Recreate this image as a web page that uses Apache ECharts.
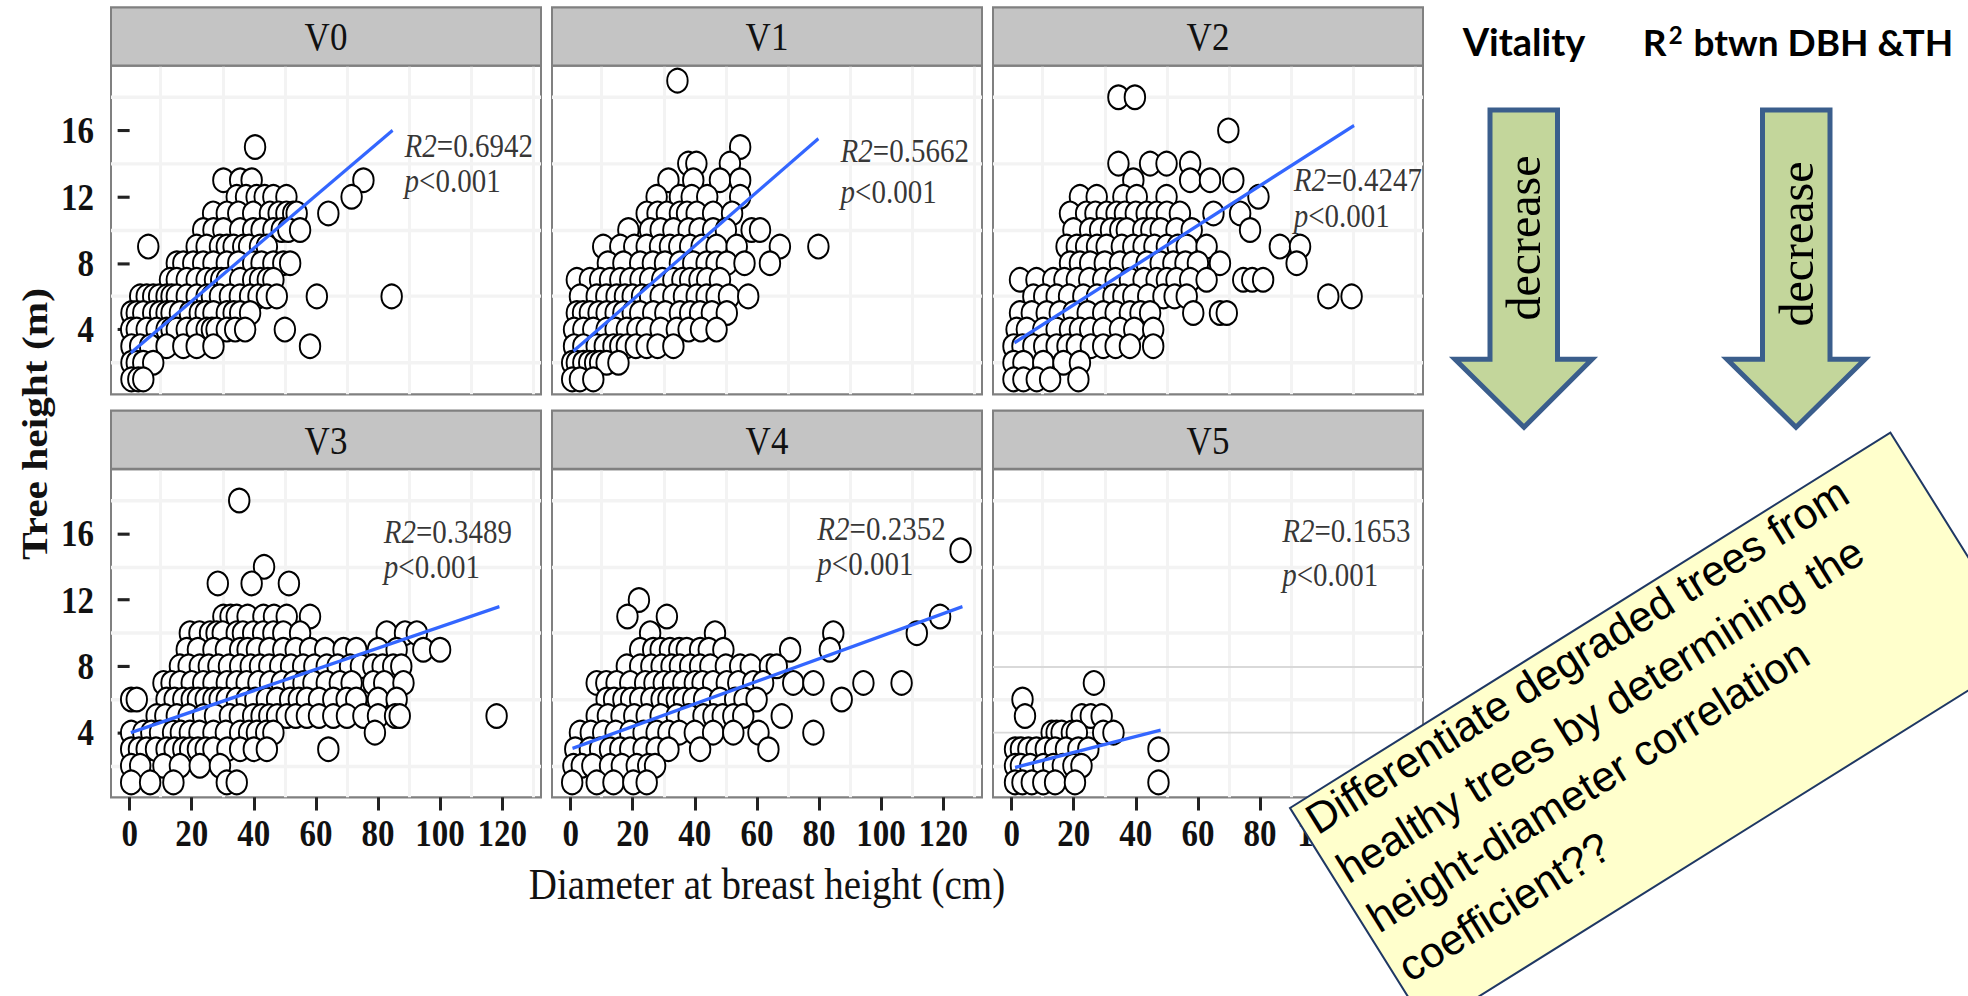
<!DOCTYPE html>
<html><head><meta charset="utf-8">
<script src="https://cdn.jsdelivr.net/npm/echarts@6/dist/echarts.min.js"></script>
<style>
html,body{margin:0;padding:0;background:#fff;overflow:hidden;width:1968px;height:996px}
#main{width:1968px;height:866.087px;transform:scaleY(1.15);transform-origin:0 0;}
</style>
</head><body><div id="main"></div>
<script>
// ---------------- data ----------------
const panels = ['V0','V1','V2','V3','V4','V5'];
const xTicks = [0,20,40,60,80,100,120];
const yTicks = [4,8,12,16];
const xMinorGrid = [10,30,50,70,90,110,130];
const yMinorGrid = [2,6,10,14,18];
const v5MajorGrid = [4,8];
const xRange = [-6, 132.5];
const yRange = [0.1, 19.9];
const r2Values = ['0.6942','0.5662','0.4247','0.3489','0.2352','0.1653'];
const pLabel = '<0.001';
const r2LabelX = [88.4, 86.8, 90.7, 81.7, 79.3, 87.0];
const r2LabelY = [15.1, 14.8, 13.0, 16.1, 16.3, 16.2];
const pLabelX  = [88.4, 86.8, 90.7, 81.7, 79.3, 87.0];
const pLabelY  = [12.95, 12.3, 10.85, 14.0, 14.2, 13.5];
const fitStartX = [0.4, 0.9, 0.9, 0.4, 0.6, 1.1];
const fitStartY = [2.6, 2.7, 3.2, 4.0, 3.05, 1.9];
const fitEndX   = [84.7, 79.8, 110.3, 119.1, 126.2, 48.0];
const fitEndY   = [16.0, 15.5, 16.3, 11.6, 11.6, 4.15];

// points: [tree height (m), [DBH values (cm)]]
const rowsV0 = [
 [15,[40.4]],
 [13,[30.2,35.6,39.3,75.3]],
 [12,[34.5,37.5,40.9,43.5,46.3,50.5,71.5]],
 [11,[26.9,31.3,35.0,39.8,45.2,48.0,50.5,52.7,53.8,64.0]],
 [10,[23.7,27.0,30.2,35.6,39.8,42.5,46.3,49.0,51.1,54.9]],
 [9,[6.0,21.6,24.8,29.1,31.3,33.5,36.6,38.5,42.0,44.2]],
 [8,[15.2,17.3,20.5,23.7,27.0,31.3,35.0,39.8,42.5,46.3,49.5,51.7]],
 [7,[13.0,15.2,18.4,21.6,24.8,27.5,29.5,31.3,35.6,39.8,42.0,44.5,46.3]],
 [6,[3.4,5.5,7.6,9.5,11.9,13.5,15.2,18.4,21.6,24.8,26.5,29.1,32.3,35.5,38.8,41.5,44.2,47.4,60.3,84.4]],
 [5,[0.6,2.3,4.4,7.6,9.8,11.9,13.5,16.2,19.4,22.6,24.5,27.0,31.3,33.5,35.6,38.8]],
 [4,[0.5,2.3,5.5,8.7,11.9,13.5,15.2,18.4,21.6,24.8,26.5,28.0,31.3,34.0,37.2,50.0]],
 [3,[0.6,3.4,6.6,11.9,17.3,21.6,27.0,58.1]],
 [2,[0.6,2.3,4.4,7.6]],
 [1,[0.6,2.8,4.4]]
];
const rowsV1 = [
 [19,[34.4]],
 [15,[54.6]],
 [14,[37.9,40.5,51.3]],
 [13,[31.5,39.5,48.1,54.6]],
 [12,[27.7,35.2,39.0,44.0,54.6]],
 [11,[24.5,28.0,31.0,35.2,37.5,40.6,45.9,52.0]],
 [10,[18.6,25.6,29.0,33.1,38.0,41.5,45.9,50.0,58.3,61.0]],
 [9,[10.5,16.0,20.5,24.5,28.8,32.0,35.0,38.5,42.2,47.0,53.5,67.4,79.8]],
 [8,[12.0,17.0,22.4,26.5,30.4,35.2,39.5,43.8,47.0,50.3,56.0,64.2]],
 [7,[2.0,6.2,9.5,12.7,16.0,19.2,22.5,25.6,29.5,33.1,36.0,38.5,41.5,44.0,48.1]],
 [6,[3.0,8.4,11.5,14.8,17.5,20.0,23.0,25.6,29.0,33.1,36.5,40.6,43.8,47.0,51.0,57.2]],
 [5,[2.0,4.0,6.2,9.0,11.6,14.5,17.0,20.0,22.4,26.6,30.5,35.2,38.5,41.7,45.5,50.3]],
 [4,[1.1,4.1,7.3,11.6,14.5,18.1,21.5,24.5,29.0,34.2,38.0,42.0,47.0]],
 [3,[1.1,4.1,8.4,11.0,13.8,16.0,18.1,21.0,24.5,28.0,33.1]],
 [2,[0.5,2.0,4.1,6.0,7.9,9.5,11.6,15.4]],
 [1,[0.5,3.0,7.3]]
];
const rowsV2 = [
 [18,[34.4,39.7]],
 [16,[69.8]],
 [14,[34.4,44.6,49.9,57.5]],
 [13,[39.2,57.5,63.9,71.4]],
 [12,[22.0,27.4,36.0,40.3,49.9,79.5]],
 [11,[18.8,24.0,27.0,30.6,33.8,36.5,40.0,43.5,46.7,50.0,54.2,65.0,73.6]],
 [10,[19.9,25.3,28.5,32.0,35.0,37.1,42.4,45.0,48.0,53.1,58.0,76.8]],
 [9,[17.7,21.0,24.0,27.5,30.6,35.5,39.2,42.5,46.0,50.0,53.5,56.4,62.8,86.4,92.9]],
 [8,[18.8,22.0,25.3,30.0,34.9,39.0,43.5,48.0,52.1,56.0,60.0,67.1,91.8]],
 [7,[2.7,8.0,13.4,17.0,21.0,25.0,29.5,33.5,38.1,42.5,46.7,50.0,53.1,57.5,62.8,74.6,77.5,81.0]],
 [6,[7.0,10.5,14.5,18.5,23.1,27.5,32.8,36.0,39.2,44.0,48.9,52.5,56.4,102.0,109.5]],
 [5,[2.7,6.5,11.3,15.5,19.9,24.5,29.5,33.5,38.1,41.5,44.6,58.5,67.1,69.3]],
 [4,[1.6,4.9,10.2,14.5,18.8,22.0,25.3,29.5,34.9,39.5,45.6]],
 [3,[0.6,3.5,7.0,10.5,14.5,18.0,21.0,25.5,29.5,33.5,38.1,45.6]],
 [2,[0.6,3.8,10.2,16.7,22.0]],
 [1,[0.6,3.8,8.1,12.4,21.5]]
];
const rowsV3 = [
 [18,[35.3]],
 [14,[43.3]],
 [13,[28.4,39.3,51.3]],
 [11,[30.2,32.5,34.5,38.0,43.1,46.5,50.6,58.1]],
 [10,[19.4,22.5,25.9,28.0,30.0,34.5,36.5,39.8,43.0,46.3,49.5,54.9,82.8,88.7,92.5]],
 [9,[18.4,22.0,27.0,31.0,35.6,38.0,41.0,45.0,49.5,53.5,58.1,63.0,68.9,73.0,80.0,86.0,94.6,100.0]],
 [8,[16.2,19.0,22.6,25.5,28.6,32.0,35.6,39.0,42.0,45.0,48.5,52.0,55.9,59.5,63.5,67.0,71.0,74.5,78.5,81.5,84.9,87.5]],
 [7,[10.9,13.5,16.2,20.0,23.7,27.0,31.3,34.5,37.7,41.5,45.2,49.0,52.8,56.0,59.2,63.5,67.7,71.5,78.5,82.0,88.2]],
 [6,[0.5,2.3,11.9,14.5,17.3,20.0,22.0,24.5,27.0,29.0,31.3,34.5,37.7,40.5,44.2,47.5,51.7,54.5,57.1,61.0,65.6,69.9,73.0,80.0,86.0]],
 [5,[8.7,11.5,15.2,19.0,23.7,27.5,32.3,35.5,39.8,42.5,45.0,47.5,50.6,53.5,57.1,61.0,65.6,70.0,75.3,80.0,85.5,87.0,118.2]],
 [4,[0.5,4.4,7.0,9.8,14.0,16.5,19.4,22.5,27.0,31.0,35.6,38.5,41.0,44.0,46.3,79.0]],
 [3,[0.5,3.0,5.5,8.5,11.9,14.5,17.3,19.5,22.0,24.5,27.0,31.5,35.6,40.0,44.2,64.0]],
 [2,[0.5,3.4,10.9,16.2,22.6,29.1]],
 [1,[0.5,6.6,14.1,31.3,34.5]]
];
const rowsV4 = [
 [15,[125.6]],
 [12,[22.0]],
 [11,[18.3,31.0,119.0]],
 [10,[25.6,46.5,84.6,111.5]],
 [9,[22.4,26.6,29.0,32.0,35.0,37.4,41.7,44.5,49.2,70.7,83.5]],
 [8,[18.1,22.4,26.0,29.3,32.5,35.2,38.5,41.7,45.0,50.0,54.6,58.0,64.2,66.4]],
 [7,[8.4,11.5,14.8,19.2,24.0,27.0,30.0,33.0,36.3,40.0,42.5,45.9,50.3,54.0,58.8,62.0,71.7,78.2,94.3,106.6]],
 [6,[11.6,14.0,17.0,19.5,22.4,26.0,29.3,31.5,34.2,36.5,39.5,43.0,48.1,53.0,56.0,59.9,87.3]],
 [5,[8.4,12.0,16.4,20.5,24.5,29.0,34.2,38.0,42.8,46.0,49.0,52.4,55.6,68.0]],
 [4,[3.0,6.5,10.5,14.5,19.2,23.5,27.7,31.5,35.0,40.0,45.9,52.4,60.5,78.2]],
 [3,[1.5,6.2,9.5,12.7,16.0,19.2,23.5,27.7,31.5,41.7,63.7]],
 [2,[0.9,3.6,7.0,12.7,16.5,21.3,25.0,27.2]],
 [1,[0.5,8.4,13.8,20.2,24.5]]
];
const rowsV5 = [
 [7,[26.5]],
 [6,[3.5]],
 [5,[4.3,22.6,25.5,29.0]],
 [4,[12.9,14.5,16.1,19.4,21.0,29.5,32.8]],
 [3,[1.1,3.0,5.4,8.0,11.0,14.0,17.5,21.5,24.7,47.3]],
 [2,[1.1,3.0,6.0,10.2,13.4,16.5,19.9,22.5]],
 [1,[1.1,3.5,6.5,10.2,14.0,20.4,47.3]]
];
const panelRows = [rowsV0, rowsV1, rowsV2, rowsV3, rowsV4, rowsV5];

// ---------------- layout ----------------
const K = 1.15; // vertical stretch of the original figure
const colLeft = [111, 552, 993];
const colW = 430;
const plotTop = [65.7, 469];
const plotH = [328.6, 328.3];
const stripTop = [7.3, 410.7];
const SERIF = '"Liberation Serif", "Times New Roman", serif';

function flatten(rows){
  const out = [];
  rows.forEach(r => r[1].forEach(x => out.push([x, r[0]])));
  return out;
}

const grids = [], xAxes = [], yAxes = [], series = [], graphics = [];
panels.forEach((name, i) => {
  const row = Math.floor(i / 3), col = i % 3;
  grids.push({
    left: colLeft[col], top: plotTop[row] / K, width: colW, height: plotH[row] / K,
    show: true, backgroundColor: '#ffffff', borderColor: '#808080', borderWidth: 2
  });
  const bottomRow = row === 1, leftCol = col === 0;
  xAxes.push({
    gridIndex: i, type: 'value', min: xRange[0], max: xRange[1],
    axisLine: { show: false }, splitLine: { show: false },
    axisTick: { show: bottomRow, customValues: xTicks, length: 11.5, lineStyle: { color: '#222', width: 3 } },
    axisLabel: { show: bottomRow, customValues: xTicks, margin: 15, fontSize: 33, fontFamily: SERIF, fontWeight: 'bold', color: '#111' },
    name: i === 4 ? 'Diameter at breast height (cm)' : '',
    nameLocation: 'middle', nameGap: 56,
    nameTextStyle: { fontFamily: SERIF, fontSize: 39, color: '#111' }
  });
  yAxes.push({
    gridIndex: i, type: 'value', min: yRange[0], max: yRange[1],
    axisLine: { show: false }, splitLine: { show: false },
    axisTick: { show: leftCol, customValues: yTicks, length: 12, lineStyle: { color: '#222', width: 2.7 } },
    axisLabel: { show: leftCol, customValues: yTicks, margin: 17, fontSize: 33, fontFamily: SERIF, fontWeight: 'bold', color: '#111' }
  });
  // faint grid lines
  const gridLines = xMinorGrid.map(v => ({ xAxis: v })).concat(yMinorGrid.map(v => ({ yAxis: v })));
  if (i === 5) v5MajorGrid.forEach(v => gridLines.push({ yAxis: v, lineStyle: { color: '#d9d9d9', width: 1.6 } }));
  series.push({
    type: 'line', xAxisIndex: i, yAxisIndex: i, data: [], z: 1, silent: true,
    markLine: { z: 1, silent: true, symbol: ['none','none'], label: { show: false }, animation: false,
      lineStyle: { color: '#f3f3f3', width: 3, type: 'solid' }, data: gridLines }
  });
  // points
  series.push({
    type: 'scatter', xAxisIndex: i, yAxisIndex: i, data: flatten(panelRows[i]), z: 3,
    symbol: 'circle', symbolSize: 20.5, silent: true,
    itemStyle: { color: '#ffffff', borderColor: '#000000', borderWidth: 1.9, opacity: 1 }
  });
  // regression line
  series.push({
    type: 'line', xAxisIndex: i, yAxisIndex: i, z: 4, silent: true, symbol: 'none',
    data: [[fitStartX[i], fitStartY[i]], [fitEndX[i], fitEndY[i]]],
    lineStyle: { color: '#3366ff', width: 3 }
  });
  // R2 / p labels
  series.push({
    type: 'scatter', xAxisIndex: i, yAxisIndex: i, z: 5, silent: true, symbolSize: 1,
    itemStyle: { color: 'rgba(0,0,0,0)' },
    label: { show: true, position: 'right', distance: 0, lineHeight: 26,
      rich: {
        i: { fontFamily: SERIF, fontStyle: 'italic', fontSize: 29, lineHeight: 26, color: '#000' },
        n: { fontFamily: SERIF, fontSize: 29, lineHeight: 26, color: '#000' }
      } },
    data: [
      { value: [r2LabelX[i], r2LabelY[i]], label: { formatter: '{i|R2}{n|=' + r2Values[i] + '}' } },
      { value: [pLabelX[i], pLabelY[i]], label: { formatter: '{i|p}{n|' + pLabel + '}' } }
    ]
  });
  // facet strip
  graphics.push({
    type: 'rect', z: 10, silent: true,
    shape: { x: colLeft[col], y: stripTop[row] / K, width: colW, height: (plotTop[row] - stripTop[row]) / K },
    style: { fill: '#c4c4c4', stroke: '#808080', lineWidth: 2 }
  });
  graphics.push({
    type: 'text', z: 11, silent: true,
    x: colLeft[col] + colW / 2, y: (stripTop[row] + plotTop[row]) / 2 / K,
    style: { text: name, font: '35px ' + SERIF, fill: '#111', align: 'center', verticalAlign: 'middle',
      textAlign: 'center', textVerticalAlign: 'middle' }
  });
});

// y axis title
graphics.push({
  type: 'text', z: 11, silent: true, x: 34, y: 424 / K, rotation: Math.PI / 2,
  style: { text: 'Tree height (m)', font: 'bold 36px ' + SERIF, fill: '#111', align: 'center', verticalAlign: 'middle',
    textAlign: 'center', textVerticalAlign: 'middle' }
});

// right side annotations (drawn in un-stretched screen coordinates)
const ARROW_FILL = '#c3d69b', ARROW_STROKE = '#3b5e8c';
function arrowPts(xl, xr, hl, hr, tipX){
  return [[xl,110],[xr,110],[xr,359],[hr,359],[tipX,427],[hl,359],[xl,359]];
}
const annot = {
  type: 'group', x: 0, y: 0, scaleY: 1 / K, z: 100,
  children: [
    { type: 'text', z: 100, x: 1524, y: 41,
      style: { text: 'Vitality', font: 'bold 38px Lato', fill: '#000', align: 'center', verticalAlign: 'middle',
        textAlign: 'center', textVerticalAlign: 'middle' } },
    { type: 'text', z: 100, x: 1798, y: 41,
      style: { text: '{b|R}{s|2}{b| btwn DBH &TH}', fill: '#000', align: 'center', verticalAlign: 'middle',
        textAlign: 'center', textVerticalAlign: 'middle',
        rich: { b: { fontFamily: 'Lato', fontWeight: 'bold', fontSize: 37, fill: '#000' },
                s: { fontFamily: 'Lato', fontWeight: 'bold', fontSize: 24, fill: '#000', verticalAlign: 'top', padding: [0,2,14,2] } } } },
    { type: 'polygon', z: 100, shape: { points: arrowPts(1490, 1557.5, 1455, 1592, 1524) },
      style: { fill: ARROW_FILL, stroke: ARROW_STROKE, lineWidth: 5, lineJoin: 'miter' } },
    { type: 'polygon', z: 100, shape: { points: arrowPts(1762.5, 1830, 1727, 1865, 1796) },
      style: { fill: ARROW_FILL, stroke: ARROW_STROKE, lineWidth: 5, lineJoin: 'miter' } },
    { type: 'text', z: 101, x: 1524, y: 238, rotation: Math.PI / 2,
      style: { text: 'decrease', font: '48px ' + SERIF, fill: '#000', align: 'center', verticalAlign: 'middle',
        textAlign: 'center', textVerticalAlign: 'middle' } },
    { type: 'text', z: 101, x: 1797, y: 244, rotation: Math.PI / 2,
      style: { text: 'decrease', font: '48px ' + SERIF, fill: '#000', align: 'center', verticalAlign: 'middle',
        textAlign: 'center', textVerticalAlign: 'middle' } },
    { type: 'group', z: 100, x: 1290, y: 808, rotation: 32 * Math.PI / 180,
      children: [
        { type: 'rect', z: 100, shape: { x: 0, y: 0, width: 708, height: 260 },
          style: { fill: '#ffffcc', stroke: '#1f3864', lineWidth: 2 } },
        { type: 'text', z: 101, x: 9, y: -6,
          style: { text: 'Differentiate degraded trees from\nhealthy trees by determining the\nheight-diameter correlation\ncoefficient??',
            font: '43px "Liberation Sans", Arial, sans-serif', lineHeight: 58, fill: '#000',
            align: 'left', verticalAlign: 'top', textAlign: 'left', textVerticalAlign: 'top' } }
      ] }
  ]
};
graphics.push(annot);

const chart = echarts.init(document.getElementById('main'), null, { renderer: 'svg' });
chart.setOption({
  animation: false,
  backgroundColor: '#ffffff',
  grid: grids, xAxis: xAxes, yAxis: yAxes, series: series,
  graphic: { elements: graphics }
});
</script>
</body></html>
